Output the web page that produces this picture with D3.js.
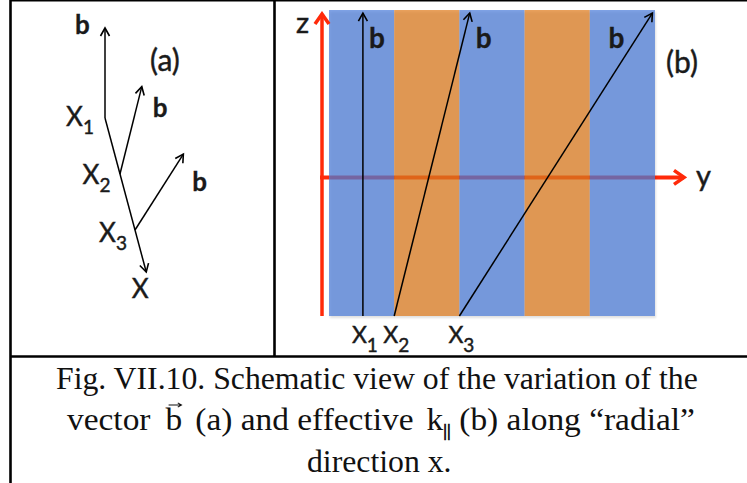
<!DOCTYPE html>
<html>
<head>
<meta charset="utf-8">
<script src="https://cdn.jsdelivr.net/npm/d3@7"></script>
<style>
  body { margin: 0; background: #fff; }
  svg { display: block; }
</style>
</head>
<body>
<script>
// ---- data ----
// alternating density stripes across y in panel (b)
const stripes = ["blue", "orange", "blue", "orange", "blue"];
// angle of the field vector b away from z (degrees) at the surfaces x1, x2, x3
const shearAngles = [0, 14, 32.5];
// surface index used for the subscripts
const surfaceNames = ["1", "2", "3"];
// radial position of each surface along x in panel (a)
const radialPos = [0, 1, 2];
// radial extent of the x arrow in panel (a)
const radialEnd = 2.75;
// y position (in stripe widths) where each field line crosses the bottom in panel (b)
const lineStarts = [0.52, 1.0, 2.0];
// caption text
const captionLine1 = "Fig. VII.10. Schematic view of the variation of the";
const captionLine2 = [
  { t: "vector", gap: 14 },
  { t: "b", vec: true, gap: 12 },
  { t: "(a) and effective", gap: 12 },
  { t: "k" },
  { t: "||", sub: true, gap: 8 },
  { t: "(b) along \u201Cradial\u201D" }
];
const captionLine3 = "direction x.";

// ---- setup ----
const W = 747, H = 483;
const INK = "#1a1a1a";
const RED = "#ff2a0a";
const stripeColor = { blue: "#4e7eda", orange: "#df7d20" };

const svg = d3.select("body").append("svg")
  .attr("width", W).attr("height", H)
  .style("font-family", "Lato, 'Open Sans', sans-serif");

const defs = svg.append("defs");
function chevron(id, color, len, half, sw) {
  defs.append("marker")
    .attr("id", id)
    .attr("markerUnits", "userSpaceOnUse")
    .attr("viewBox", `${-len - 3} ${-half - 3} ${len + 6} ${2 * half + 6}`)
    .attr("markerWidth", len + 6).attr("markerHeight", 2 * half + 6)
    .attr("refX", 0).attr("refY", 0)
    .attr("orient", "auto")
    .append("path")
    .attr("d", `M${-len},${-half}L0,0L${-len},${half}`)
    .attr("fill", "none").attr("stroke", color)
    .attr("stroke-width", sw).attr("stroke-linejoin", "miter");
}
chevron("headBlack", "#000", 8, 4.5, 1.6);
chevron("headRed", RED, 10, 7, 3.5);

const blurF = defs.append("filter").attr("id", "soft")
  .attr("x", "-5%").attr("y", "-5%").attr("width", "110%").attr("height", "110%");
blurF.append("feGaussianBlur").attr("stdDeviation", 1.2);

// labels get a hairline outline so the sans glyphs read as heavy as the figure's
function ink(sel, w) {
  return sel.attr("fill", INK).attr("stroke", INK).attr("stroke-width", w == null ? 0.45 : w)
    .attr("paint-order", "stroke");
}

// ---- table frame ----
const frame = svg.append("g").attr("stroke", "#000");
frame.append("line").attr("x1", 10).attr("x2", W).attr("y1", 0.75).attr("y2", 0.75).attr("stroke-width", 1.5);
frame.append("line").attr("x1", 10.5).attr("x2", 10.5).attr("y1", 0).attr("y2", H).attr("stroke-width", 2.6);
frame.append("line").attr("x1", 274.5).attr("x2", 274.5).attr("y1", 0).attr("y2", 357).attr("stroke-width", 2.6);
frame.append("line").attr("x1", 10).attr("x2", W).attr("y1", 356.5).attr("y2", 356.5).attr("stroke-width", 2.6);

// ---- panel (a): b vectors rotating along x ----
const pa = svg.append("g");
const ax = d3.scaleLinear().domain([0, 1]).range([105, 120]);
const ay = d3.scaleLinear().domain([0, 1]).range([118, 174]);
const vecLen = 90;
const rad = d => d * Math.PI / 180;

const aPts = radialPos.map((r, i) => {
  const x = ax(r), y = ay(r), th = rad(shearAngles[i]);
  return { x, y, tx: x + vecLen * Math.sin(th), ty: y - vecLen * Math.cos(th), name: surfaceNames[i] };
});
const xTip = { x: ax(radialEnd), y: ay(radialEnd) };

pa.append("line")
  .attr("x1", aPts[0].x).attr("y1", aPts[0].y)
  .attr("x2", xTip.x).attr("y2", xTip.y)
  .attr("stroke", "#000").attr("stroke-width", 1.5)
  .attr("marker-end", "url(#headBlack)");

pa.selectAll("line.b").data(aPts).join("line")
  .attr("class", "b")
  .attr("x1", d => d.x).attr("y1", d => d.y)
  .attr("x2", d => d.tx).attr("y2", d => d.ty)
  .attr("stroke", "#000").attr("stroke-width", 1.5)
  .attr("marker-end", "url(#headBlack)");

// "b" labels beside each arrow tip
const aBOffsets = [[-30, 6], [11, 30], [9, 37]];
ink(pa.selectAll("text.b").data(aPts).join("text")
  .attr("class", "b")
  .attr("x", (d, i) => d.tx + aBOffsets[i][0])
  .attr("y", (d, i) => d.ty + aBOffsets[i][1])
  .attr("font-size", 26).attr("font-weight", 700)
  .text("b"), 0.3);

// surface labels X1..X3
const aLab = ink(pa.selectAll("text.s").data(aPts).join("text")
  .attr("class", "s")
  .attr("x", (d, i) => d.x - 39 + i * 1.5)
  .attr("y", (d, i) => d.y + 8 + i * 2)
  .attr("font-size", 26));
aLab.append("tspan").text("X");
aLab.append("tspan").attr("font-size", 19).attr("dy", 8).text(d => d.name);

ink(pa.append("text")
  .attr("x", xTip.x - 6).attr("y", xTip.y + 26)
  .attr("text-anchor", "middle")
  .attr("font-size", 26)
  .text("X"));

ink(pa.append("text")
  .attr("x", 150).attr("y", 71)
  .attr("font-size", 30)
  .text("(a)"));

// ---- panel (b): field lines across stripes ----
const pb = svg.append("g");
const bx = d3.scaleLinear().domain([0, stripes.length]).range([329, 655]);
const bz = d3.scaleLinear().domain([0, 1]).range([316, 10]);
const sw = bx(1) - bx(0);

// y axis (drawn under the stripes so it tints through them)
pb.append("line")
  .attr("x1", 320).attr("x2", 684)
  .attr("y1", bz(0.453)).attr("y2", bz(0.453))
  .attr("stroke", RED).attr("stroke-width", 4)
  .attr("marker-end", "url(#headRed)");

// faint shadow under the stripe block
pb.append("rect")
  .attr("x", bx(0) + 1).attr("y", bz(1) + 2)
  .attr("width", bx(stripes.length) - bx(0)).attr("height", bz(0) - bz(1))
  .attr("fill", "#000").attr("opacity", 0.12).attr("filter", "url(#soft)");

pb.selectAll("rect.stripe").data(stripes).join("rect")
  .attr("class", "stripe")
  .attr("x", (d, i) => bx(i)).attr("y", bz(1))
  .attr("width", sw).attr("height", bz(0) - bz(1))
  .attr("fill", d => stripeColor[d]).attr("fill-opacity", 0.73);

// z axis
pb.append("line")
  .attr("x1", 322).attr("x2", 322)
  .attr("y1", bz(0)).attr("y2", 14)
  .attr("stroke", RED).attr("stroke-width", 3.5)
  .attr("marker-end", "url(#headRed)");

const topZ = 0.99;
const bLines = lineStarts.map((s, i) => {
  const x0 = bx(s), y0 = bz(0), y1 = bz(topZ);
  return { x0, y0, x1: x0 + (y0 - y1) * Math.tan(rad(shearAngles[i])), y1, name: surfaceNames[i] };
});

pb.selectAll("line.f").data(bLines).join("line")
  .attr("class", "f")
  .attr("x1", d => d.x0).attr("y1", d => d.y0)
  .attr("x2", d => d.x1).attr("y2", d => d.y1)
  .attr("stroke", "#000").attr("stroke-width", 1.5)
  .attr("marker-end", "url(#headBlack)");

const bBOffsets = [6, 6, -44];
ink(pb.selectAll("text.b").data(bLines).join("text")
  .attr("class", "b")
  .attr("x", (d, i) => d.x1 + bBOffsets[i])
  .attr("y", 48)
  .attr("font-size", 28).attr("font-weight", 700)
  .text("b"), 0.3);

const bLab = ink(pb.selectAll("text.s").data(bLines).join("text")
  .attr("class", "s")
  .attr("x", d => d.x0 - 11)
  .attr("y", 343)
  .attr("font-size", 23));
bLab.append("tspan").text("X");
bLab.append("tspan").attr("font-size", 19).attr("dy", 9).text(d => d.name);

ink(pb.append("text").attr("x", 296).attr("y", 33)
  .attr("font-size", 29).text("z"));
ink(pb.append("text").attr("x", 696).attr("y", 186)
  .attr("font-size", 29).text("y"));
ink(pb.append("text").attr("x", 666).attr("y", 73)
  .attr("font-size", 30).text("(b)"));

// ---- caption ----
const cap = svg.append("g")
  .style("font-family", "'Liberation Serif', 'Times New Roman', serif")
  .attr("fill", "#111");
const CAP = 31;

function lineGroup(x0, base, targetW, segs) {
  const g = cap.append("g");
  let x = 0;
  segs.forEach(s => {
    const t = g.append("text")
      .attr("x", x).attr("y", s.sub ? 6 : 0)
      .attr("font-size", s.sub ? 17 : CAP)
      .text(s.t);
    if (s.sub) t.attr("stroke", "#111").attr("stroke-width", 0.7);
    s.x = x;
    s.w = t.node().getComputedTextLength();
    x += s.w + (s.gap || 0);
  });
  const k = targetW ? targetW / x : 1;
  g.attr("transform", `translate(${x0},${base}) scale(${k},1)`);
  // vector accent over b
  segs.filter(s => s.vec).forEach(s => {
    const cx = s.x + s.w / 2 + 1, y = -25, half = 6;
    g.append("path")
      .attr("d", `M${cx - half},${y}H${cx + half}M${cx + half - 3.5},${y - 2.2}L${cx + half},${y}L${cx + half - 3.5},${y + 2.2}`)
      .attr("fill", "none").attr("stroke", "#111").attr("stroke-width", 1);
  });
  return k;
}

const k1 = lineGroup(56, 389, 642, [{ t: captionLine1 }]);
lineGroup(67, 430, 628, captionLine2);
cap.append("text")
  .attr("font-size", CAP)
  .attr("transform", `translate(307,472) scale(${k1},1)`)
  .text(captionLine3);
</script>
</body>
</html>
